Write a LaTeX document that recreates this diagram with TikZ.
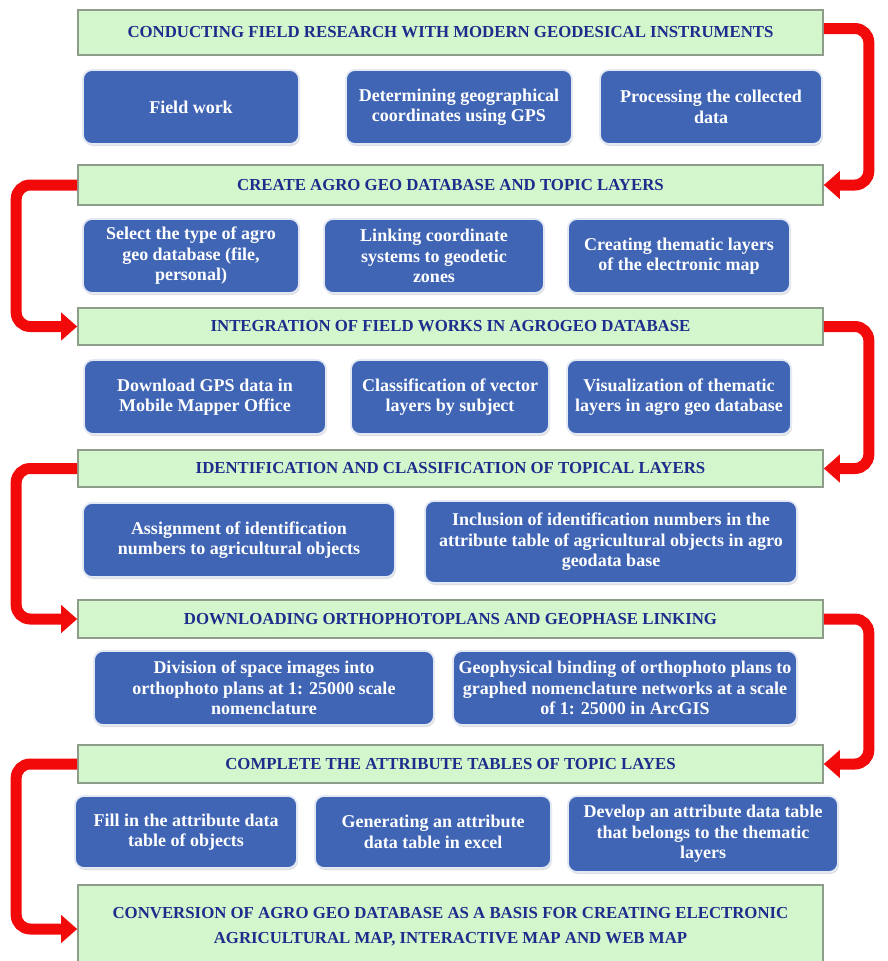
\documentclass[tikz,border=0pt]{standalone}
\usepackage{fontspec}
\setmainfont{Liberation Serif}
\usepackage{xcolor}
\usepackage{tikz}
\usetikzlibrary{arrows.meta,positioning,shadows}
\definecolor{StageGreen}{HTML}{D3F6CC}
\definecolor{StageEdge}{HTML}{8E9C8A}
\definecolor{StageText}{HTML}{1E2C8C}
\definecolor{TaskBlue}{HTML}{4065B5}
\definecolor{FlowRed}{HTML}{F20A0A}

\begin{document}
\begin{tikzpicture}[
  x=1pt, y=-1pt,
  stage/.style={draw=StageEdge, line width=1.6pt, fill=StageGreen, text=StageText, font=\bfseries\fontsize{16.8}{25}\selectfont, align=center, minimum width=745pt, inner sep=0pt},
  task/.style={rounded corners=9pt, draw=white!85!TaskBlue, line width=1.8pt, fill=TaskBlue, text=white, font=\bfseries\fontsize{18}{20.5}\selectfont, align=center, inner sep=0pt, drop shadow={opacity=0.25, shadow xshift=1pt, shadow yshift=-2pt}},
  flow/.style={-{Triangle[length=16pt,width=27pt]}, draw=FlowRed, line width=11pt, rounded corners=14pt}
]
\useasboundingbox (0,0) rectangle (888,961);
% stages
\node[stage, minimum height=45pt] (conduct) at (450.5,32.5) {CONDUCTING FIELD RESEARCH WITH MODERN GEODESICAL INSTRUMENTS};
\node[stage, minimum height=40pt] (create) at (450.5,185) {CREATE AGRO GEO DATABASE AND TOPIC LAYERS};
\node[stage, minimum height=37pt] (integrate) at (450.5,326.5) {INTEGRATION OF FIELD WORKS IN AGROGEO DATABASE};
\node[stage, minimum height=37pt] (identify) at (450.5,468.5) {IDENTIFICATION AND CLASSIFICATION OF TOPICAL LAYERS};
\node[stage, minimum height=38pt] (ortho) at (450.5,619) {DOWNLOADING ORTHOPHOTOPLANS  AND GEOPHASE LINKING};
\node[stage, minimum height=38pt] (complete) at (450.5,764) {COMPLETE THE ATTRIBUTE TABLES OF TOPIC LAYES};
\node[stage, minimum height=84pt] (convert) at (450.5,927) {CONVERSION OF AGRO GEO DATABASE AS A BASIS FOR CREATING ELECTRONIC\\AGRICULTURAL MAP, INTERACTIVE MAP AND WEB MAP};
% tasks, row 1
\node[task, minimum width=216pt, minimum height=74pt] (fieldwork) at (191,107) {Field work};
\node[task, minimum width=226pt, minimum height=74pt] (gps) at (459,107) {Determining geographical\\coordinates using GPS};
\node[task, minimum width=222pt, minimum height=74pt] (process) at (711,107) {Processing the collected\\data};
% tasks, row 2
\node[task, minimum width=216pt, minimum height=74pt] (dbtype) at (191,256) {Select the type of agro\\geo database (file,\\personal)};
\node[task, minimum width=220pt, minimum height=74pt] (linking) at (434,256) {Linking coordinate\\systems to geodetic\\zones};
\node[task, minimum width=222pt, minimum height=74pt] (thematic) at (679,256) {Creating thematic layers\\of the electronic map};
% tasks, row 3
\node[task, minimum width=242pt, minimum height=74pt] (download) at (205,397) {Download GPS data in\\Mobile Mapper Office};
\node[task, minimum width=198pt, minimum height=74pt] (classify) at (450,397) {Classification  of vector\\layers by subject};
\node[task, minimum width=224pt, minimum height=74pt] (visual) at (679,397) {Visualization of thematic\\layers in agro geo database};
% tasks, row 4
\node[task, minimum width=312pt, minimum height=74pt] (assign) at (239,540) {Assignment  of identification\\numbers to agricultural objects};
\node[task, minimum width=372pt, minimum height=82pt] (inclusion) at (611,542) {Inclusion of identification  numbers in the\\attribute table of agricultural objects in agro\\geodata base};
% tasks, row 5
\node[task, minimum width=340pt, minimum height=74pt] (division) at (264,688) {Division of space images into\\orthophoto plans at 1: 25000 scale\\nomenclature};
\node[task, minimum width=344pt, minimum height=74pt] (binding) at (625,688) {Geophysical binding of orthophoto plans to\\graphed nomenclature networks at a scale\\of 1: 25000 in ArcGIS};
% tasks, row 6
\node[task, minimum width=222pt, minimum height=72pt] (fill) at (186,832) {Fill in the attribute data\\table of objects};
\node[task, minimum width=236pt, minimum height=72pt] (excel) at (433,832) {Generating an attribute\\data table in excel};
\node[task, minimum width=270pt, minimum height=76pt] (develop) at (703,834) {Develop an attribute data table\\that belongs to the thematic\\layers};
% flow between stages
\draw[flow] ([yshift=4pt]conduct.east) -- ++(45,0) |- (create.east);
\draw[flow] (create.west) -- ++(-61,0) |- (integrate.west);
\draw[flow] (integrate.east) -- ++(45,0) |- (identify.east);
\draw[flow] (identify.west) -- ++(-61,0) |- (ortho.west);
\draw[flow] (ortho.east) -- ++(45,0) |- (complete.east);
\draw[flow] (complete.west) -- ++(-61,0) |- ([yshift=-2pt]convert.west);
\end{tikzpicture}
\end{document}
